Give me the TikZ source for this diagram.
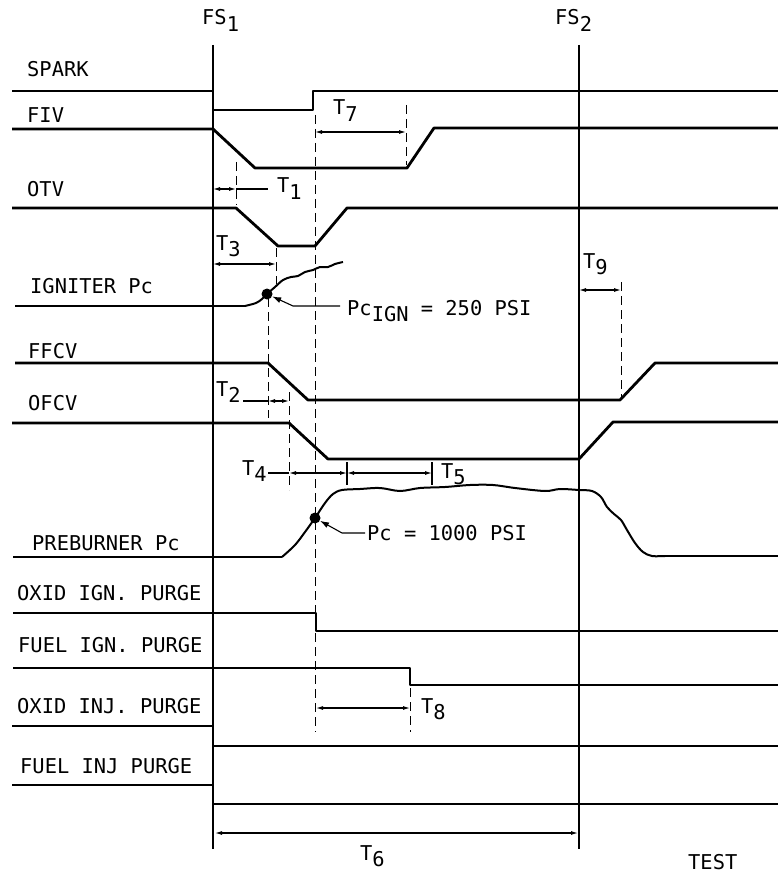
\documentclass[tikz,border=0pt]{standalone}
\usepackage{fontspec}
\setmonofont{DejaVu Sans Mono}
\usetikzlibrary{arrows.meta, positioning, calc}

\newcommand{\lo}[1]{\raisebox{-0.55ex}{#1}}

\begin{document}
\begin{tikzpicture}[
        x=1pt, y=-1pt,
        font=\ttfamily\fontsize{20.4}{24}\selectfont,
        sig/.style={line width=2.8pt, line join=round},
        pc/.style={line width=2pt, line join=round},
        fs/.style={line width=1.8pt},
        guide/.style={line width=1pt, dash pattern=on 9pt off 5pt},
        tick/.style={line width=1.2pt},
        dim/.style={{Latex[length=7pt,width=4pt]}-{Latex[length=7pt,width=4pt]}, line width=1.1pt},
        lead/.style={line width=1.1pt},
        ptr/.style={-{Latex[length=9pt,width=6pt]}, line width=1.1pt},
        lbl/.style={anchor=base west, inner sep=0pt},
        pdot/.style={circle, fill, inner sep=0pt, minimum size=11pt}
    ]
        \useasboundingbox (0,0) rectangle (778,877);

        % firing signals
        \draw[fs] (213,45) -- (213,849);
        \draw[fs] (579,45) -- (579,849);
        \node[lbl] (fs1) at (202,25) {FS\lo{1}};
        \node[lbl] (fs2) at (555,25) {FS\lo{2}};

        % signal names
        \node[lbl] (spark) at (27,77)  {SPARK};
        \node[lbl] (fiv)   at (27,123) {FIV};
        \node[lbl] (otv)   at (27,197) {OTV};
        \node[lbl] (ign)   at (30,293) {IGNITER Pc};
        \node[lbl] (ffcv)  at (28,358) {FFCV};
        \node[lbl] (ofcv)  at (28,410) {OFCV};
        \node[lbl] (pb)    at (32,550) {PREBURNER Pc};
        \node[lbl] (oip)   at (17,600) {OXID IGN. PURGE};
        \node[lbl] (fip)   at (18,652) {FUEL IGN. PURGE};
        \node[lbl] (oinp)  at (17,713) {OXID INJ. PURGE};
        \node[lbl] (finp)  at (20,773) {FUEL INJ PURGE};

        % traces
        \draw[sig] (12,91) -- (213,91) -- (213,110) -- (313,110) -- (313,91) -- (778,91);
        \draw[sig] (12,129) -- (213,129) -- (255,168) -- (407,168) -- (434,128) -- (778,128);
        \draw[sig] (12,208) -- (236,208) -- (278,246) -- (315,246) -- (347,208) -- (778,208);
        \draw[sig] (15,363) -- (268,363) -- (308,400) -- (620,400) -- (655,363) -- (778,363);
        \draw[sig] (12,423) -- (289,423) -- (328,459) -- (579,459) -- (613,422) -- (778,422);
        \draw[sig] (13,613) -- (316,613) -- (316,631) -- (778,631);
        \draw[sig] (13,668) -- (410,668) -- (410,685) -- (778,685);
        \draw[sig] (12,726) -- (213,726);
        \draw[sig] (213,746) -- (778,746);
        \draw[sig] (12,785) -- (213,785);
        \draw[sig] (213,804) -- (778,804);

        \draw[sig] (15,306) -- (245,306);
        \draw[pc] plot[smooth, tension=0.55] coordinates {(245,306) (256,303) (262,299) (267,294)
            (275,287) (283,280) (291,277) (298,276) (305,272) (313,270) (320,267) (328,267) (335,264) (343,262)};
        \draw[sig] (13,557) -- (282,557);
        \draw[pc] plot[smooth, tension=0.55] coordinates {(282,557) (295,545) (305,532) (315,518)
            (325,503) (333,494) (342,490) (360,489) (380,488) (400,491) (420,488) (445,487) (470,485)
            (493,485) (515,488) (545,491) (560,489) (579,490) (592,491) (601,497) (607,507) (614,514)
            (621,520) (627,530) (635,543) (643,552) (652,556) (665,556)};
        \draw[sig] (665,556) -- (778,556);

        \node[pdot] (ignpt) at (267,294) {};
        \node[pdot] (pbpt)  at (315,518) {};

        % guide lines
        \draw[guide] (315,115) -- (315,732);
        \draw[guide] (406,105) -- (406,165);
        \draw[guide] (236,162) -- (236,205);
        \draw[guide] (276,248) -- (276,284);
        \draw[guide] (268,298) -- (268,418);
        \draw[guide] (289,392) -- (289,490);
        \draw[guide] (621,282) -- (621,398);
        \draw[guide] (410,688) -- (410,732);
        \draw[tick] (347,462) -- (347,485);
        \draw[tick] (432,462) -- (432,485);

        % time intervals
        \draw[dim] (315,132) -- (406,132);
        \node[lbl] (t7) at (333,115) {T\lo{7}};

        \draw[dim] (213,189) -- (236,189);
        \draw[lead] (236,189) -- (268,189);
        \node[lbl] (t1) at (277,193) {T\lo{1}};

        \draw[dim] (213,264) -- (276,264);
        \node[lbl] (t3) at (216,250) {T\lo{3}};

        \draw[dim] (579,290) -- (621,290);
        \node[lbl] (t9) at (583,268) {T\lo{9}};

        \draw[lead] (243,401) -- (268,401);
        \draw[dim] (268,401) -- (289,401);
        \node[lbl] (t2) at (216,396) {T\lo{2}};

        \draw[lead] (268,473) -- (289,473);
        \draw[dim] (289,473) -- (347,473);
        \draw[dim] (347,473) -- (432,473);
        \node[lbl] (t4) at (242,475) {T\lo{4}};
        \node[lbl] (t5) at (441,478) {T\lo{5}};

        \draw[dim] (316,708) -- (410,708);
        \node[lbl] (t8) at (421,713) {T\lo{8}};

        \draw[dim] (215,833) -- (578,833);
        \node[lbl] (t6) at (360,860) {T\lo{6}};

        % pressure call-outs
        \node[lbl] (igntxt) at (347,315) {Pc\lo{IGN} = 250 PSI};
        \coordinate (ignend) at (340,306);
        \draw[ptr] (ignend) -- (293,306) -- (ignpt);

        \node[lbl] (pbtxt) at (367,540) {Pc = 1000 PSI};
        \coordinate (pbend) at (365,533);
        \draw[ptr] (pbend) -- (342,533) -- (pbpt);

        \node[lbl] (test) at (688,869) {TEST};
    \end{tikzpicture}
\end{document}
